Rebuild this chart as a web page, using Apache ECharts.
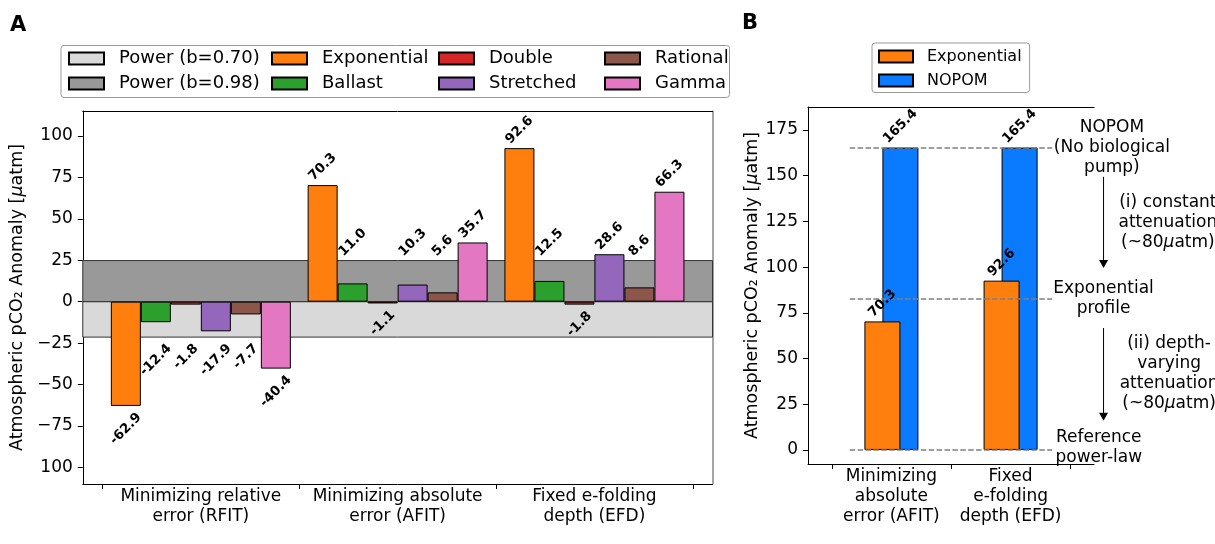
<!DOCTYPE html>
<html><head><meta charset="utf-8">
<script src="https://cdn.jsdelivr.net/npm/echarts@6/dist/echarts.min.js"></script>
<style>html,body{margin:0;padding:0;background:#fff}#c{width:1215px;height:544px}</style>
</head><body><div id="c"></div>
<script>
// ---------------- Panel A data ----------------
const categoriesA = ['Minimizing relative\nerror (RFIT)', 'Minimizing absolute\nerror (AFIT)', 'Fixed e-folding\ndepth (EFD)'];
const seriesNamesA = ['Exponential', 'Ballast', 'Double', 'Stretched', 'Rational', 'Gamma'];
const exponentialA = [-62.9, 70.3, 92.6];
const ballastA = [-12.4, 11.0, 12.5];
const doubleA = [-1.8, -1.1, -1.8];
const stretchedA = [-17.9, 10.3, 28.6];
const rationalA = [-7.7, 5.6, 8.6];
const gammaA = [-40.4, 35.7, 66.3];
const powerNames = ['Power (b=0.70)', 'Power (b=0.98)'];
const powerBandLow = [-21.4, 0];
const powerBandHigh = [0, 24.8];
const yTickValuesA = [-100, -75, -50, -25, 0, 25, 50, 75, 100];
const yTickLabelsA = ['100', '\u221275', '\u221250', '\u221225', '0', '25', '50', '75', '100'];

// ---------------- Panel B data ----------------
const categoriesB = ['Minimizing\nabsolute\nerror (AFIT)', 'Fixed\ne-folding\ndepth (EFD)'];
const exponentialB = [70.3, 92.6];
const nopomB = [165.4, 165.4];
const refLevelsB = [165.4, 82.7, 0];
const yTickValuesB = [0, 25, 50, 75, 100, 125, 150, 175];
const annotTextB = ['NOPOM\n(No biological\npump)', 'Exponential\nprofile', 'Reference\npower-law',
  '(i) constant\nattenuation\n(~80{i|\u03bc}atm)', '(ii) depth-\nvarying\nattenuation\n(~80{i|\u03bc}atm)'];
const annotXB = [1.85, 1.78, 1.74, 2.32, 2.33];
const annotYB = [165.4, 82.7, 1.5, 124.5, 41.5];
const arrowXB = [1.78, 1.78];
const arrowFromB = [149.4, 66.7];
const arrowToB = [99.5, 16.0];

// ---------------- styling ----------------
const FONT = '"DejaVu Sans", sans-serif';
const colorsA = ['#ff7f0e', '#2ca02c', '#d62728', '#9467bd', '#8c564b', '#e377c2'];
const powerColors = ['#d9d9d9', '#999999'];
const nopomColor = '#0a7bff';
const BAR_W_A = 30, BAR_W_B = 36;
const LABEL_SIZE = 13.3;
const LABEL_FONT = 'bold ' + LABEL_SIZE + 'px "DejaVu Sans"';
const TICK_SIZE = 17;

const valuesA = [exponentialA, ballastA, doubleA, stretchedA, rationalA, gammaA];
const ctx = document.createElement('canvas').getContext('2d');
ctx.font = LABEL_FONT;
function halfBox(t) { return (ctx.measureText(t).width + 0.73 * LABEL_SIZE) / (2 * Math.SQRT2); }

// label anchor clamping per group: RFIT labels go below the lower band, others above upper band
const clampA = [powerBandLow[0], powerBandHigh[1], powerBandHigh[1]];
const labelDataA = [];
valuesA.forEach((arr, j) => arr.forEach((v, i) => {
  const c = clampA[i];
  let ay = v;
  if (v < 0 && c < 0) ay = Math.min(v, c);
  if (v >= 0 && c > 0) ay = Math.max(v, c);
  labelDataA.push([i, ay, v, j]);
}));
const labelDataB = [];
exponentialB.forEach((v, i) => labelDataB.push([i, v, v, 0]));
nopomB.forEach((v, i) => labelDataB.push([i, v, v, 1]));

function axisCommon() {
  return {
    axisLine: { show: true, onZero: false, lineStyle: { color: '#000', width: 1 } },
    splitLine: { show: false },
  };
}
const axisLabelStyle = { color: '#000', fontSize: TICK_SIZE, fontFamily: FONT };
const yNameStyle = { color: '#000', fontSize: 17.5, fontFamily: FONT,
  rich: { n: { fontSize: 17.5, fontFamily: FONT, color: '#000' }, i: { fontSize: 17.5, fontFamily: FONT, fontStyle: 'italic', color: '#000' } } };

const option = {
  animation: false,
  backgroundColor: '#fff',
  textStyle: { fontFamily: FONT },
  grid: [
    { left: 77, right: 502.5, top: 111, bottom: 60, containLabel: false },
    { left: 808, right: 121, top: 107, bottom: 80, containLabel: false }
  ],
  xAxis: [
    Object.assign(axisCommon(), {
      gridIndex: 0, type: 'value', min: -0.6, max: 2.6, position: 'bottom',
      axisTick: { show: true, customValues: [-0.5, 0.5, 1.5, 2.5], length: 5, lineStyle: { color: '#000' } },
      axisLabel: Object.assign({ customValues: [0, 1, 2], margin: 3, lineHeight: 20,
        formatter: v => categoriesA[Math.round(v)] }, axisLabelStyle)
    }),
    Object.assign(axisCommon(), {
      gridIndex: 0, type: 'value', min: -0.6, max: 2.6, position: 'top',
      axisTick: { show: false }, axisLabel: { show: false }
    }),
    Object.assign(axisCommon(), {
      gridIndex: 1, type: 'value', min: -0.7, max: 1.7, position: 'bottom',
      axisTick: { show: true, customValues: [-0.5, 0.5, 1.5], length: 5, lineStyle: { color: '#000' } },
      axisLabel: Object.assign({ customValues: [0, 1], margin: 3, lineHeight: 20,
        formatter: v => categoriesB[Math.round(v)] }, axisLabelStyle)
    }),
    Object.assign(axisCommon(), {
      gridIndex: 1, type: 'value', min: -0.7, max: 1.7, position: 'top',
      axisTick: { show: false }, axisLabel: { show: false }
    })
  ],
  yAxis: [
    Object.assign(axisCommon(), {
      gridIndex: 0, type: 'value', min: -110, max: 115, position: 'left',
      axisTick: { show: true, customValues: yTickValuesA, length: 5, lineStyle: { color: '#000' } },
      axisLabel: Object.assign({ customValues: yTickValuesA, margin: 10,
        formatter: v => yTickLabelsA[yTickValuesA.findIndex(t => Math.abs(t - v) < 1e-6)] }, axisLabelStyle),
      name: '{n|Atmospheric pCO\u2082 Anomaly [}{i|\u03bc}{n|atm]}', nameLocation: 'middle', nameGap: 49,
      nameTextStyle: yNameStyle
    }),
    {
      gridIndex: 0, type: 'value', min: -110, max: 115, position: 'right',
      axisLine: { show: true, onZero: false, lineStyle: { color: '#888', width: 1.5 } },
      axisTick: { show: false }, axisLabel: { show: false }, splitLine: { show: false }
    },
    Object.assign(axisCommon(), {
      gridIndex: 1, type: 'value', min: -7.7, max: 187.6, position: 'left',
      axisTick: { show: true, customValues: yTickValuesB, length: 5, lineStyle: { color: '#000' } },
      axisLabel: Object.assign({ customValues: yTickValuesB, margin: 10 }, axisLabelStyle),
      name: '{n|Atmospheric pCO\u2082 Anomaly [}{i|\u03bc}{n|atm]}', nameLocation: 'middle', nameGap: 47,
      nameTextStyle: yNameStyle
    })
  ],
  legend: [
    { data: [powerNames[0], powerNames[1]], left: 68 },
    { data: [seriesNamesA[0], seriesNamesA[1]], left: 271 },
    { data: [seriesNamesA[2], seriesNamesA[3]], left: 438 },
    { data: [seriesNamesA[4], seriesNamesA[5]], left: 604 }
  ].map(l => Object.assign({
    top: 49.5, orient: 'vertical', padding: 0, itemWidth: 35, itemHeight: 12, itemGap: 7,
    icon: 'rect', selectedMode: false,
    textStyle: { fontSize: 18, fontFamily: FONT, color: '#000', padding: [0, 0, 0, 10] }
  }, l)).concat([{
    data: ['Exponential', 'NOPOM'], left: 872, top: 43, orient: 'vertical',
    padding: [5.5, 8, 4, 6], itemWidth: 34, itemHeight: 12, itemGap: 8, icon: 'rect', selectedMode: false,
    borderColor: '#999', borderWidth: 1, borderRadius: 3, backgroundColor: '#fff',
    textStyle: { fontSize: 16, fontFamily: FONT, color: '#000', padding: [0, 0, 0, 9] }
  }]),
  graphic: [
    { type: 'rect', left: 60.5, top: 45, shape: { width: 668.5, height: 52, r: 3 }, z: -1,
      style: { fill: '#fff', stroke: '#999', lineWidth: 1 } },
    { type: 'text', left: 10, top: 15, style: { text: 'A', font: 'bold 21px "DejaVu Sans"', fill: '#000' } },
    { type: 'text', left: 742, top: 13, style: { text: 'B', font: 'bold 21px "DejaVu Sans"', fill: '#000' } }
  ],
  series: []
};

// Power bands (as mark areas on the top axis so bar layout is unaffected)
powerNames.forEach((name, k) => {
  option.series.push({
    name, type: 'bar', xAxisIndex: 1, yAxisIndex: 0, data: [], z: 1,
    itemStyle: { color: powerColors[k], borderColor: '#000', borderWidth: 1 },
    markArea: { silent: true, itemStyle: { color: powerColors[k], borderColor: '#333', borderWidth: 1 },
      data: [[{ yAxis: powerBandLow[k] }, { yAxis: powerBandHigh[k] }]] }
  });
});
// Bars panel A
valuesA.forEach((arr, j) => {
  option.series.push({
    name: seriesNamesA[j], type: 'bar', xAxisIndex: 0, yAxisIndex: 0, z: 3,
    barWidth: BAR_W_A, barGap: '0%',
    data: arr.map((v, i) => [i, v]),
    itemStyle: { color: colorsA[j], borderColor: '#000', borderWidth: 1 }
  });
});
// Value labels panel A
option.series.push({
  type: 'custom', xAxisIndex: 0, yAxisIndex: 0, z: 6, silent: true,
  encode: { x: 0, y: 1 }, data: labelDataA,
  renderItem: (params, api) => {
    const i = api.value(0), ay = api.value(1), v = api.value(2), j = api.value(3);
    const p = api.coord([i, ay]);
    const t = v.toFixed(1);
    const h = halfBox(t);
    return { type: 'text', x: p[0] + (j - 2.5) * BAR_W_A, y: v >= 0 ? p[1] - h - 3 : p[1] + h + 6,
      rotation: Math.PI / 4,
      style: { text: t, font: LABEL_FONT, fill: '#000', align: 'center', verticalAlign: 'middle' } };
  }
});
// Bars panel B
option.series.push({
  name: 'Exponential', type: 'bar', xAxisIndex: 2, yAxisIndex: 2, z: 3,
  barWidth: BAR_W_B, barGap: '-50%', data: exponentialB.map((v, i) => [i, v]),
  itemStyle: { color: colorsA[0], borderColor: '#000', borderWidth: 1 }
});
option.series.push({
  name: 'NOPOM', type: 'bar', xAxisIndex: 2, yAxisIndex: 2, z: 2,
  barWidth: BAR_W_B, barGap: '-50%', data: nopomB.map((v, i) => [i, v]),
  itemStyle: { color: nopomColor, borderColor: '#000', borderWidth: 1 }
});
// Reference dashed lines
option.series.push({
  type: 'line', xAxisIndex: 2, yAxisIndex: 2, data: [], z: 4, silent: true,
  markLine: { silent: true, symbol: ['none', 'none'], label: { show: false },
    lineStyle: { type: [5.5, 2.4], color: '#808080', width: 1.5 },
    data: refLevelsB.map(y => [{ coord: [-0.35, y] }, { coord: [1.35, y] }]) }
});
// Value labels panel B
option.series.push({
  type: 'custom', xAxisIndex: 2, yAxisIndex: 2, z: 6, silent: true,
  encode: { x: 0, y: 1 }, data: labelDataB,
  renderItem: (params, api) => {
    const i = api.value(0), ay = api.value(1), v = api.value(2), k = api.value(3);
    const p = api.coord([i, ay]);
    const t = v.toFixed(1);
    const h = halfBox(t);
    return { type: 'text', x: p[0] + (k - 0.5) * BAR_W_B / 2, y: p[1] - h - 3,
      rotation: Math.PI / 4,
      style: { text: t, font: LABEL_FONT, fill: '#000', align: 'center', verticalAlign: 'middle' } };
  }
});
// Annotation texts panel B
option.series.push({
  type: 'custom', xAxisIndex: 2, yAxisIndex: 2, z: 7, silent: true, clip: false,
  encode: { x: 0, y: 1 }, data: annotXB.map((x, k) => [x, annotYB[k], k]),
  renderItem: (params, api) => {
    const p = api.coord([api.value(0), api.value(1)]);
    return { type: 'text', x: p[0], y: p[1],
      style: { text: annotTextB[api.value(2)], fontSize: 17, fontFamily: FONT, fill: '#000',
        align: 'center', verticalAlign: 'middle', lineHeight: 20,
        rich: { i: { fontSize: 17, fontFamily: FONT, fontStyle: 'italic', fill: '#000', lineHeight: 20 } } } };
  }
});
// Arrows panel B
option.series.push({
  type: 'custom', xAxisIndex: 2, yAxisIndex: 2, z: 7, silent: true, clip: false,
  encode: { x: 0, y: 1 }, data: arrowXB.map((x, k) => [x, arrowFromB[k], arrowToB[k]]),
  renderItem: (params, api) => {
    const a = api.coord([api.value(0), api.value(1)]);
    const b = api.coord([api.value(0), api.value(2)]);
    const hl = 8, hw = 4.5;
    return { type: 'group', children: [
      { type: 'line', shape: { x1: a[0], y1: a[1], x2: b[0], y2: b[1] - hl + 1 }, style: { stroke: '#000', lineWidth: 1 } },
      { type: 'polygon', shape: { points: [[b[0] - hw, b[1] - hl], [b[0] + hw, b[1] - hl], [b[0], b[1]]] }, style: { fill: '#000' } }
    ] };
  }
});

const chart = echarts.init(document.getElementById('c'), null, { renderer: 'canvas' });
chart.setOption(option);
</script></body></html>
